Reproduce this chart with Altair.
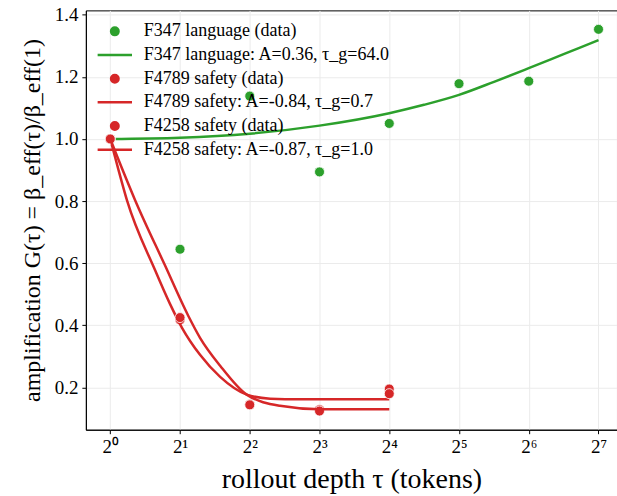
import altair as alt
import pandas as pd

# ---- data ----
tau_lang = [1, 2, 4, 8, 16, 32, 64, 128]
g_f347 = [1.0, 0.645, 1.138, 0.894, 1.050, 1.178, 1.186, 1.353]

tau_safety = [1, 2, 4, 8, 16]
g_f4789 = [1.0, 0.418, 0.145, 0.128, 0.195]
g_f4258 = [1.0, 0.425, 0.144, 0.124, 0.180]

fit_tau_f347 = [1, 2, 4, 8, 16, 22.6, 32, 45.3, 64, 90.5, 128]
fit_g_f347 = [1.0, 1.004, 1.017, 1.043, 1.083, 1.110, 1.142, 1.184, 1.228, 1.273, 1.318]

fit_tau_f4789 = [1, 1.08, 1.18, 1.56, 1.81, 2.04, 2.44, 2.98, 3.88, 4.9, 6.6, 16]
fit_g_f4789 = [1.0, 0.906, 0.803, 0.578, 0.469, 0.392, 0.305, 0.234, 0.177, 0.164, 0.162, 0.162]

fit_tau_f4258 = [1, 1.08, 1.28, 1.72, 2.17, 2.44, 2.98, 3.88, 5.4, 8, 16]
fit_g_f4258 = [1.0, 0.937, 0.803, 0.594, 0.431, 0.360, 0.270, 0.177, 0.141, 0.130, 0.130]

labels = [
    "F347 language (data)",
    "F347 language: A=0.36, τ_g=64.0",
    "F4789 safety (data)",
    "F4789 safety: A=-0.84, τ_g=0.7",
    "F4258 safety (data)",
    "F4258 safety: A=-0.87, τ_g=1.0",
]
GREEN = "#2ca02c"
RED = "#d62728"
colors = [GREEN, GREEN, RED, RED, RED, RED]
LINE_PATH = "M-4.6,0L4.6,0"
shapes = ["circle", LINE_PATH, "circle", LINE_PATH, "circle", LINE_PATH]

series = [
    (labels[0], tau_lang, g_f347, "point"),
    (labels[1], fit_tau_f347, fit_g_f347, "line"),
    (labels[2], tau_safety, g_f4789, "point"),
    (labels[3], fit_tau_f4789, fit_g_f4789, "line"),
    (labels[4], tau_safety, g_f4258, "point"),
    (labels[5], fit_tau_f4258, fit_g_f4258, "line"),
]

rows = []
for lab, ts, gs, kind in series:
    for t, g in zip(ts, gs):
        rows.append({"tau": t, "G": g, "label": lab, "kind": kind})
df = pd.DataFrame(rows)

FONT = "Liberation Serif"

x_scale = alt.Scale(type="log", base=2, domain=[2 ** -0.35, 2 ** 7.265], nice=False)
y_scale = alt.Scale(domain=[0.064, 1.414], nice=False, zero=False)

sup = "['⁰','¹','²','³','⁴','⁵','⁶','⁷','⁸']"
x_enc = alt.X(
    "tau:Q",
    scale=x_scale,
    axis=alt.Axis(
        values=[1, 2, 4, 8, 16, 32, 64, 128],
        labelExpr="'2' + " + sup + "[round(log(datum.value)/log(2))]",
        title="rollout depth τ (tokens)",
        titleFontSize=28,
        titlePadding=9,
    ),
)
y_enc = alt.Y(
    "G:Q",
    scale=y_scale,
    axis=alt.Axis(
        values=[0.2, 0.4, 0.6, 0.8, 1.0, 1.2, 1.4],
        format=".1f",
        title="amplification G(τ) = β_eff(τ)/β_eff(1)",
        titleFontSize=24,
        titlePadding=10,
    ),
)

legend = alt.Legend(
    title=None,
    orient="none",
    legendX=20,
    legendY=12,
    labelFont=FONT,
    labelFontSize=18,
    labelColor="black",
    labelLimit=0,
    symbolSize=56,
    symbolStrokeWidth=2.5,
    rowPadding=5.7,
    labelOffset=20,
    padding=0,
)
fill_scale = alt.Scale(domain=labels, range=colors)
stroke_scale = alt.Scale(domain=labels, range=colors)
shape_scale = alt.Scale(domain=labels, range=shapes)

layers = []
for lab, ts, gs, kind in series:
    base = alt.Chart(df).transform_filter(alt.datum.label == lab)
    if kind == "point":
        layer = base.mark_point(filled=True, size=100, stroke="white", strokeWidth=0.8, opacity=1).encode(
            x=x_enc,
            y=y_enc,
            fill=alt.Fill("label:N", scale=fill_scale, legend=legend),
            shape=alt.Shape("label:N", scale=shape_scale, legend=legend),
        )
    else:
        layer = base.mark_line(strokeWidth=2.5, interpolate="monotone").encode(
            x=x_enc,
            y=y_enc,
            stroke=alt.Stroke("label:N", scale=stroke_scale, legend=legend),
            order=alt.Order("tau:Q"),
        )
    layers.append(layer)

chart = (
    alt.layer(*layers)
    .properties(
        width=532,
        height=420,
        autosize=alt.AutoSizeParams(type="none"),
        padding={"left": 86, "top": 10, "right": 0, "bottom": 66},
    )
    .configure_view(stroke="black", strokeWidth=1)
    .configure_axis(
        domainColor="black",
        domainWidth=1,
        tickColor="black",
        tickSize=4,
        tickWidth=1,
        gridColor="#ebebeb",
        gridWidth=1,
        labelFont=FONT,
        labelFontSize=19,
        labelColor="black",
        labelPadding=4,
        titleFont=FONT,
        titleFontWeight="normal",
        titleColor="black",
    )
)

chart.save("out.html", embed_options={"renderer": "svg", "actions": False})
